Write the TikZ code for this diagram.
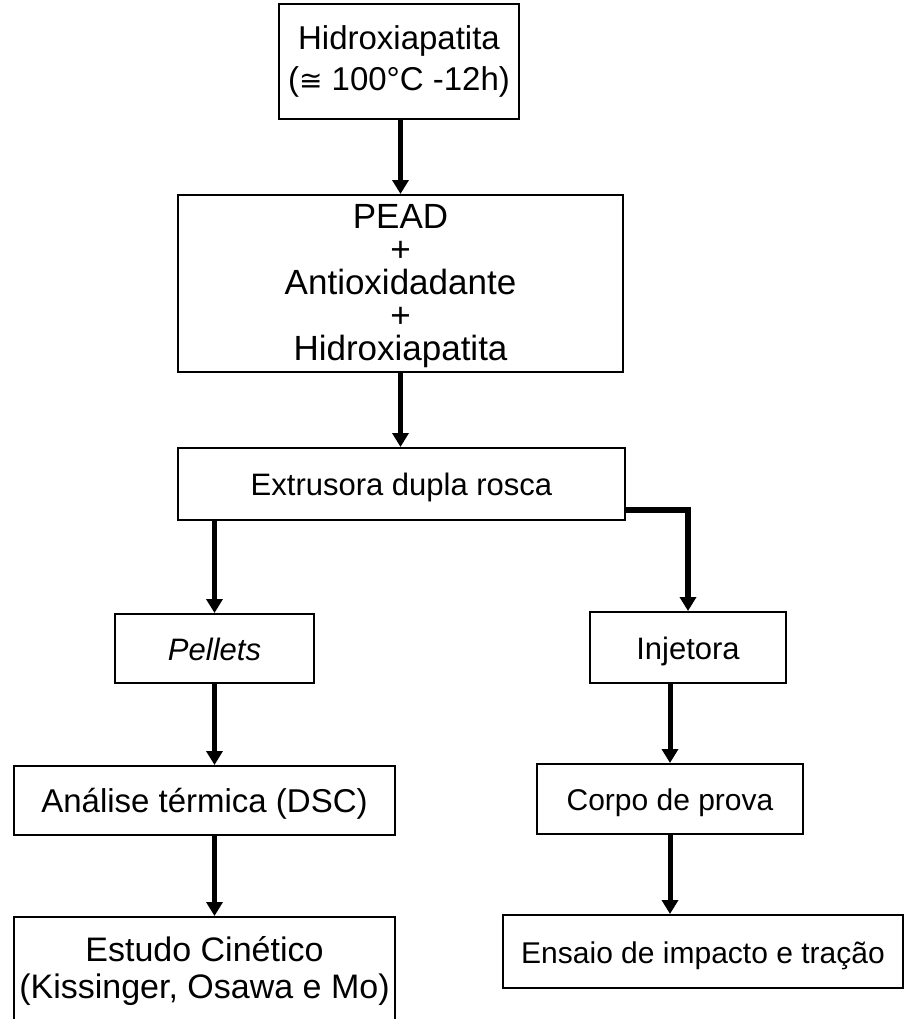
\documentclass[tikz,border=0pt]{standalone}
\usepackage{fontspec}
\setmainfont{Liberation Sans}
\newfontfamily\symfam{DejaVu Sans}
\usetikzlibrary{arrows.meta}
\begin{document}
\begin{tikzpicture}[x=0.5pt,y=-0.5pt,
  box/.style={draw, line width=1pt, align=center, inner sep=0pt, font=\fontsize{15.5}{18}\selectfont},
  one/.style={text height=11.5pt, text depth=0pt},
  big/.style={font=\fontsize{16.5}{18.5}\selectfont},
  arr/.style={line width=2.5pt, -{Triangle[width=8pt,length=7pt]}},
  link/.style={line width=3pt, -{Triangle[width=8pt,length=7pt]}},
]
\useasboundingbox (0,0) rectangle (905,1019);
\clip (0,0) rectangle (905,1019);
\node[box, font=\fontsize{16.5}{20.5}\selectfont, minimum width=120pt, minimum height=57.5pt] (b1) at (399,61.5) {Hidroxiapatita\\({\symfam\fontsize{14}{18}\selectfont ≅} 100°C -12h)};
\node[box, minimum width=222.5pt, minimum height=88.5pt,
  label={[align=center, font=\fontsize{17.5}{16.5}\selectfont, yshift=-1.5pt]center:PEAD\\+\\Antioxidadante\\+\\Hidroxiapatita}] (b2) at (400.5,283.5) {};
\node[box, one, minimum width=223.5pt, minimum height=36pt] (b3) at (401.5,484) {Extrusora dupla rosca};
\node[box, one, minimum width=99.5pt, minimum height=34.5pt] (pel) at (214.5,648.5) {\itshape Pellets};
\node[box, one, minimum width=98pt, minimum height=35.5pt] (inj) at (688,647.5) {Injetora};
\node[box, one, big, minimum width=190.5pt, minimum height=34.5pt] (ana) at (204.5,800.5) {Análise térmica (DSC)};
\node[box, one, font=\fontsize{15}{18}\selectfont, minimum width=133pt, minimum height=35pt] (cor) at (670,799) {Corpo de prova};
\node[box, font=\fontsize{17}{18.5}\selectfont, minimum width=190.5pt, minimum height=54pt] (est) at (204.5,971) {Estudo Cinético\\(Kissinger, Osawa e Mo)};
\node[box, one, font=\fontsize{15}{18}\selectfont, minimum width=200pt, minimum height=36.5pt] (ens) at (703,951.5) {Ensaio de impacto e tração};
\draw[arr] (b1.south -| b2.north) -- (b2.north);
\draw[arr] (b2.south) -- (b2.south |- b3.north);
\draw[arr] (b3.south -| pel.north) -- (pel.north);
\draw[link] ([yshift=-13pt]b3.east) -| (inj.north);
\draw[arr] (pel.south) -- (pel.south |- ana.north);
\draw[arr] (inj.south -| cor.north) -- (cor.north);
\draw[arr] (pel.south |- ana.south) -- (pel.south |- est.north);
\draw[arr] (cor.south) -- (cor.south |- ens.north);
\end{tikzpicture}
\end{document}
